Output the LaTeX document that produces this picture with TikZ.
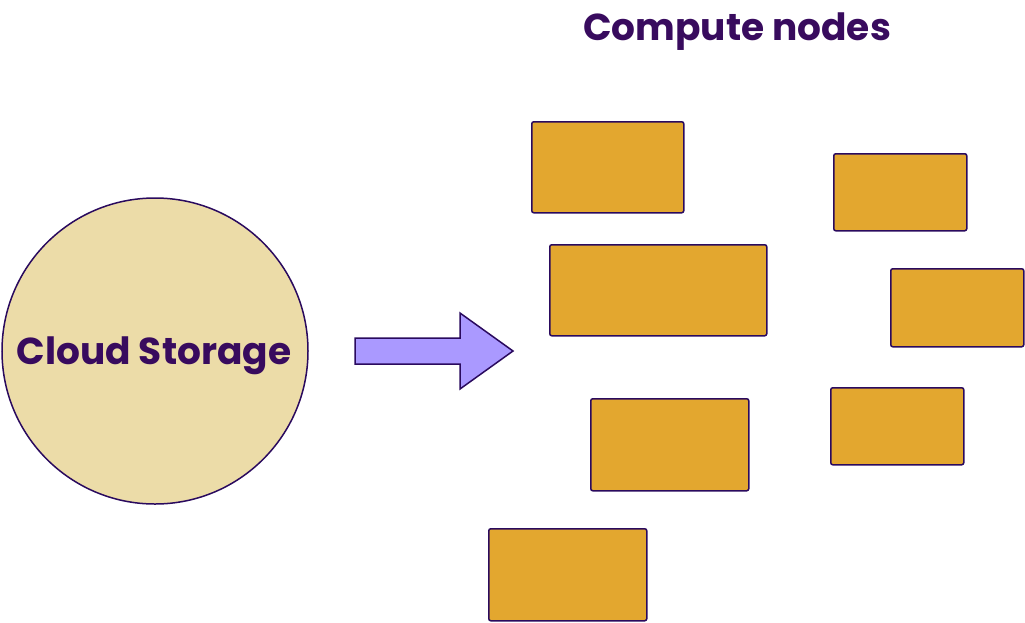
\documentclass[tikz,border=0pt]{standalone}
\usepackage{fontspec}
\setmainfont{Poppins}
\definecolor{testo}{HTML}{380B5E}
\definecolor{bordo}{HTML}{2A0A5E}
\definecolor{disco}{HTML}{ECDCA8}
\definecolor{nodo}{HTML}{E3A72F}
\definecolor{freccia}{HTML}{AA99FF}
\begin{document}
\begin{tikzpicture}[x=1pt, y=-1pt,
    storage/.style={circle, draw=bordo, line width=1.5pt, fill=disco, minimum size=306pt, inner sep=0pt},
    compute/.style={rectangle, rounded corners=2pt, draw=bordo, line width=1.5pt, fill=nodo, anchor=north west, inner sep=0pt},
    titolo/.style={text=testo, font=\bfseries}
]
    \useasboundingbox (0,0) rectangle (1025,622);

    % Storage
    \node[storage] (cloud) at (155,351) {};
    \node[titolo, font=\bfseries\fontsize{37.5}{44}\selectfont] (cloudlbl) at (154,356) {Cloud Storage};

    % Freccia
    \draw[draw=bordo, line width=1.5pt, fill=freccia, line join=miter]
        (355,338) -- (460,338) -- (460,313) -- (513,351) -- (460,389) -- (460,364) -- (355,364) -- cycle;

    % Compute nodes
    \node[titolo, font=\bfseries\fontsize{37.5}{44}\selectfont] (title) at (737,32) {Compute nodes};
    \node[compute, minimum width=152pt, minimum height=91pt] (n1) at (531,121) {};
    \node[compute, minimum width=133pt, minimum height=77pt] (n2) at (833,153) {};
    \node[compute, minimum width=217pt, minimum height=91pt] (n3) at (549,244) {};
    \node[compute, minimum width=133pt, minimum height=78pt] (n4) at (890,268) {};
    \node[compute, minimum width=158pt, minimum height=92pt] (n5) at (590,398) {};
    \node[compute, minimum width=133pt, minimum height=77pt] (n6) at (830,387) {};
    \node[compute, minimum width=158pt, minimum height=92pt] (n7) at (488,528) {};
\end{tikzpicture}
\end{document}
